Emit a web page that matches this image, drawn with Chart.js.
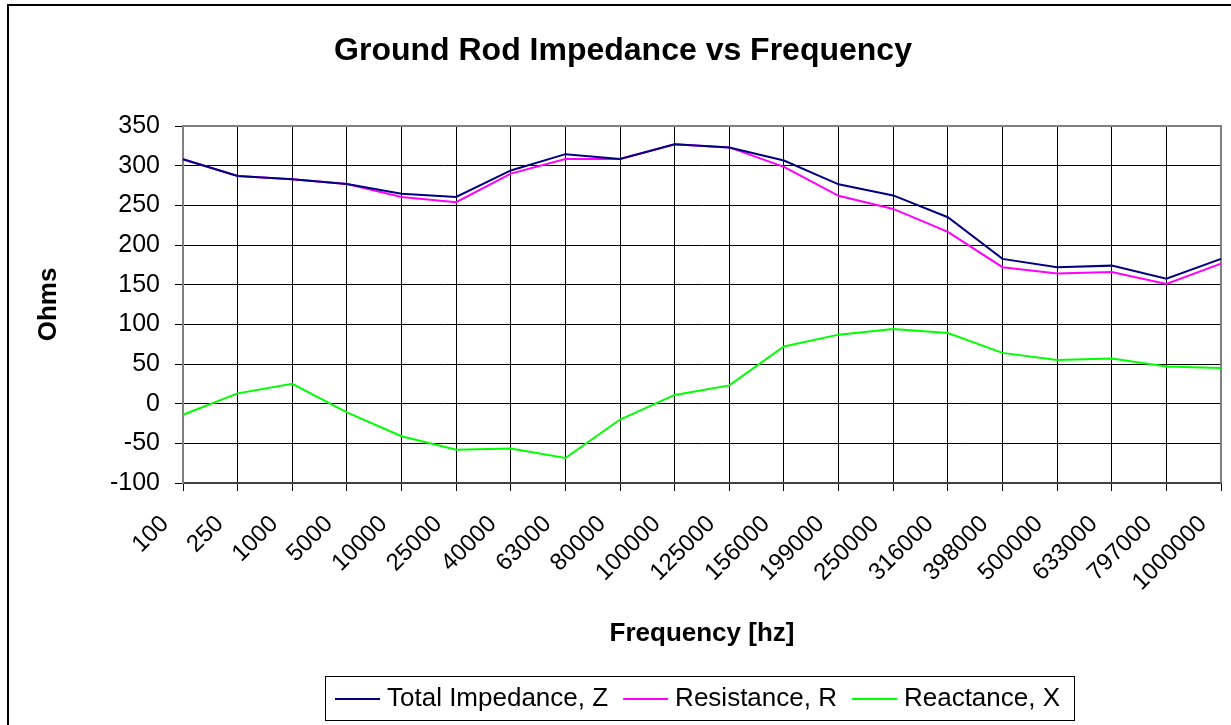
<!DOCTYPE html>
<html>
<head>
<meta charset="utf-8">
<title>Ground Rod Impedance vs Frequency</title>
<script src="https://cdn.jsdelivr.net/npm/chart.js@4/dist/chart.umd.min.js"></script>
<style>
    html, body { margin: 0; padding: 0; background: #fff; }
    #wrap { position: relative; width: 1231px; height: 725px; }
</style>
</head>
<body>
<div id="wrap"><canvas id="impChart"></canvas></div>
<script>
// Datos
const frequencies = ['100', '250', '1000', '5000', '10000', '25000', '40000', '63000', '80000', '100000',
    '125000', '156000', '199000', '250000', '316000', '398000', '500000', '633000', '797000', '1000000'];
const impedanceZ = [308, 287, 283, 277, 264.5, 260.5, 294, 314.5, 308.5, 327,
    323, 306.5, 276.5, 262.5, 235, 182.5, 172, 174, 157.5, 182.5];
const resistanceR = [308, 287, 283, 277, 260.5, 254, 290, 308.5, 308.5, 327,
    323, 298.5, 262, 245.5, 216.5, 172, 164, 166, 151, 176.5];
const reactanceX = [-14, 13, 25, -11, -41, -58, -56.5, -68.5, -20, 11,
    23, 72, 87, 94, 89, 64, 55, 57, 47, 45];
const yMin = -100;
const yMax = 350;
const yStep = 50;

const chartTitle = 'Ground Rod Impedance vs Frequency';
const FONT = '"Liberation Sans", Arial, sans-serif';

// Marco, titulo y leyenda estilo Excel
const excelFrame = {
    id: 'excelFrame',
    beforeDraw(chart) {
        const ctx = chart.ctx;
        ctx.save();
        ctx.fillStyle = '#fff';
        ctx.fillRect(0, 0, chart.width, chart.height);
        ctx.strokeStyle = '#000';
        ctx.lineWidth = 2;
        ctx.beginPath();
        ctx.moveTo(8, chart.height);
        ctx.lineTo(8, 5);
        ctx.lineTo(chart.width, 5);
        ctx.stroke();
        ctx.restore();
    },
    beforeDatasetsDraw(chart) {
        const { ctx, chartArea } = chart;
        ctx.save();
        ctx.strokeStyle = '#808080';
        ctx.lineWidth = 2;
        ctx.beginPath();
        ctx.moveTo(chartArea.left, chartArea.top);
        ctx.lineTo(chartArea.right, chartArea.top);
        ctx.lineTo(chartArea.right, chartArea.bottom);
        ctx.stroke();
        ctx.restore();
    },
    afterDraw(chart) {
        const ctx = chart.ctx;
        ctx.save();
        // titulo
        ctx.fillStyle = '#000';
        ctx.font = `bold 32px ${FONT}`;
        ctx.textAlign = 'center';
        ctx.textBaseline = 'middle';
        ctx.fillText(chartTitle, 623, 51);

        // leyenda
        ctx.font = `26px ${FONT}`;
        ctx.textAlign = 'left';
        const startX = 335;
        const cy = 699;
        let x = startX;
        let lastEnd = x;
        chart.data.datasets.forEach(ds => {
            ctx.strokeStyle = ds.borderColor;
            ctx.lineWidth = 2;
            ctx.beginPath();
            ctx.moveTo(x, cy);
            ctx.lineTo(x + 45, cy);
            ctx.stroke();
            x += 52;
            ctx.fillStyle = '#000';
            ctx.fillText(ds.label, x, cy);
            const w = ctx.measureText(ds.label).width;
            lastEnd = x + w;
            x += w + 15;
        });
        ctx.strokeStyle = '#000';
        ctx.lineWidth = 1;
        ctx.strokeRect(Math.round(startX - 10) + 0.5, 676.5, Math.round(lastEnd + 14 - (startX - 10)), 44);
        ctx.restore();
    }
};

const ctx = document.getElementById('impChart').getContext('2d');
const impChart = new Chart(ctx, {
    type: 'line',
    data: {
        labels: frequencies,
        datasets: [{
            label: 'Total Impedance, Z',
            data: impedanceZ,
            borderColor: '#000080',
            backgroundColor: '#000080'
        }, {
            label: 'Resistance, R',
            data: resistanceR,
            borderColor: '#ff00ff',
            backgroundColor: '#ff00ff'
        }, {
            label: 'Reactance, X',
            data: reactanceX,
            borderColor: '#00ff00',
            backgroundColor: '#00ff00'
        }]
    },
    options: {
        responsive: true,
        maintainAspectRatio: false,
        animation: false,
        layout: { padding: { top: 126, left: 0, right: 10, bottom: 65 } },
        elements: {
            point: { radius: 0, hoverRadius: 0 },
            line: { tension: 0, borderWidth: 2 }
        },
        plugins: {
            legend: { display: false },
            title: { display: false },
            tooltip: { enabled: false }
        },
        scales: {
            x: {
                grid: { color: '#000', lineWidth: 1, tickLength: 8 },
                border: { color: '#404040', width: 2 },
                ticks: {
                    autoSkip: false,
                    minRotation: 45,
                    maxRotation: 45,
                    padding: 19,
                    labelOffset: -18,
                    color: '#000',
                    font: { family: FONT, size: 24 }
                },
                title: {
                    display: true,
                    text: 'Frequency [hz]',
                    color: '#000',
                    font: { family: FONT, size: 26, weight: 'bold' },
                    padding: { top: 0, bottom: 11 }
                },
                afterFit(scale) {
                    scale.height = 177;
                    scale.paddingLeft = 0;
                    scale.paddingRight = 0;
                }
            },
            y: {
                min: yMin,
                max: yMax,
                grid: { color: '#000', lineWidth: 1, tickLength: 8 },
                border: { color: '#808080', width: 2 },
                ticks: {
                    stepSize: yStep,
                    padding: 15,
                    color: '#000',
                    font: { family: FONT, size: 25 }
                },
                title: {
                    display: true,
                    text: 'Ohms',
                    color: '#000',
                    font: { family: FONT, size: 26, weight: 'bold' },
                    padding: { top: 33, bottom: 0 }
                },
                afterFit(scale) {
                    scale.width = 183;
                    scale.paddingTop = 0;
                    scale.paddingBottom = 0;
                }
            }
        }
    },
    plugins: [excelFrame]
});
</script>
</body>
</html>
